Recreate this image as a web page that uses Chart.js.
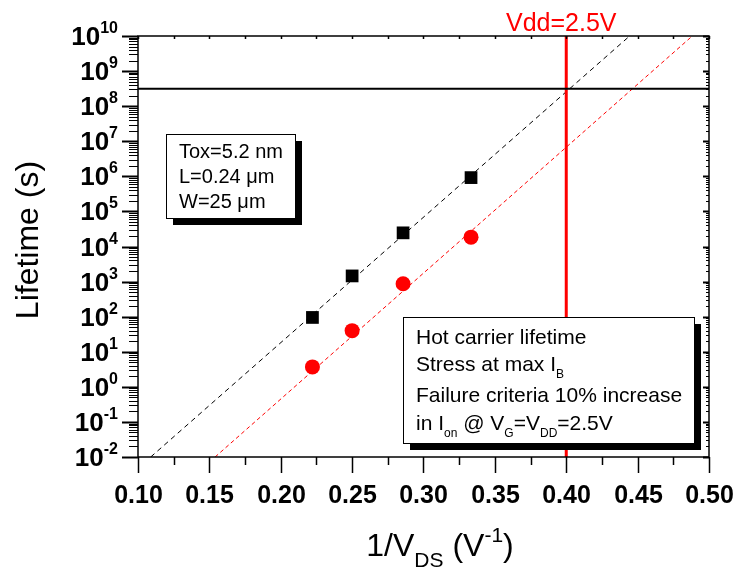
<!DOCTYPE html>
<html>
<head>
<meta charset="utf-8">
<script src="https://cdn.jsdelivr.net/npm/chart.js@4.4.1/dist/chart.umd.min.js"></script>
<style>
  body { margin: 0; background: #fff; }
</style>
</head>
<body>
<canvas id="lifetime-chart" width="734" height="571"></canvas>
<script>
// measured points (1/Vds in V^-1, lifetime in s)
const invVds = [0.2222, 0.25, 0.2857, 0.3333];
const lifetimeBlack = [95, 1450, 24500, 920000];
const lifetimeRed = [3.7, 40, 870, 18500];

// dashed fits, read where they hit the bottom and top of the frame
const fitBlackX = [0.1089, 0.4444];
const fitRedX = [0.154, 0.4883];
const fitY = [1e-2, 1e10];

const tenYears = 3.15e8;
const vddX = 0.4;

const xTickValues = [0.10, 0.125, 0.15, 0.175, 0.20, 0.225, 0.25, 0.275, 0.30, 0.325, 0.35, 0.375, 0.40, 0.425, 0.45, 0.475, 0.50];
const yExponents = [-2, -1, 0, 1, 2, 3, 4, 5, 6, 7, 8, 9, 10];

const FONT = 'Arial, "Liberation Sans", sans-serif';

const toPoints = (xs, ys) => xs.map((v, i) => ({ x: v, y: ys[i] }));

// draws text made of normal / sub / sup pieces
function richText(ctx, parts, x, y, size, align, subScale, subDrop) {
  const subSize = Math.round(size * (subScale || 0.6));
  const widthOf = (p) => {
    ctx.font = (p.sub || p.sup ? subSize : size) + 'px ' + FONT;
    return ctx.measureText(p.t).width;
  };
  const total = parts.reduce((s, p) => s + widthOf(p), 0);
  let cx = align === 'center' ? x - total / 2 : x;
  ctx.textAlign = 'left';
  ctx.textBaseline = 'alphabetic';
  parts.forEach((p) => {
    const w = widthOf(p);
    let dy = 0;
    if (p.sub) dy = size * (subDrop || 0.3);
    if (p.sup) dy = -size * 0.45;
    ctx.fillText(p.t, cx, y + dy);
    cx += w;
  });
}

function textBox(ctx, x1, y1, x2, y2, lines, size) {
  ctx.fillStyle = '#000';
  ctx.fillRect(x1 + 7, y1 + 7, x2 - x1, y2 - y1);
  ctx.fillStyle = '#fff';
  ctx.fillRect(x1, y1, x2 - x1, y2 - y1);
  ctx.strokeStyle = '#000';
  ctx.lineWidth = 1;
  ctx.strokeRect(x1 + 0.5, y1 + 0.5, x2 - x1, y2 - y1);
  ctx.fillStyle = '#000';
  lines.forEach((l) => richText(ctx, l.parts, x1 + 13, l.y, size, 'left', 0.55, 0.33));
}

const axesPlugin = {
  id: 'originAxes',
  afterDatasetsDraw(chart) {
    const { ctx, chartArea: a, scales: { x, y } } = chart;
    ctx.save();

    // frame
    ctx.strokeStyle = '#000';
    ctx.lineWidth = 1.5;
    ctx.strokeRect(a.left, a.top, a.right - a.left, a.bottom - a.top);

    // x ticks and labels
    xTickValues.forEach((v) => {
      const px = Math.round(x.getPixelForValue(v)) + 0.5;
      const major = Math.round(v * 1000) % 50 === 0;
      ctx.lineWidth = 1.5;
      ctx.beginPath();
      ctx.moveTo(px, a.bottom);
      ctx.lineTo(px, a.bottom + (major ? 16 : 8));
      ctx.moveTo(px, a.top);
      ctx.lineTo(px, a.top + 3);
      ctx.stroke();
      if (major) {
        ctx.fillStyle = '#000';
        ctx.font = 'bold 25px ' + FONT;
        ctx.textAlign = 'center';
        ctx.textBaseline = 'middle';
        ctx.fillText(v.toFixed(2), px, 496);
      }
    });

    // y ticks (log) and labels
    yExponents.forEach((e) => {
      const py = Math.round(y.getPixelForValue(Math.pow(10, e))) + 0.5;
      ctx.lineWidth = 2;
      ctx.beginPath();
      ctx.moveTo(a.left - 16, py);
      ctx.lineTo(a.left, py);
      ctx.moveTo(a.right, py);
      ctx.lineTo(a.right - 6, py);
      ctx.stroke();
      if (e < 10) {
        ctx.lineWidth = 1;
        for (let k = 2; k <= 9; k++) {
          const pm = Math.round(y.getPixelForValue(k * Math.pow(10, e))) + 0.5;
          ctx.beginPath();
          ctx.moveTo(a.left - 9, pm);
          ctx.lineTo(a.left, pm);
          ctx.moveTo(a.right, pm);
          ctx.lineTo(a.right - 3, pm);
          ctx.stroke();
        }
      }
      const right = 118;
      ctx.fillStyle = '#000';
      ctx.font = 'bold 16px ' + FONT;
      ctx.textAlign = 'right';
      ctx.textBaseline = 'alphabetic';
      const exp = String(e);
      ctx.fillText(exp, right, py - 4);
      const ew = ctx.measureText(exp).width;
      ctx.font = 'bold 26px ' + FONT;
      ctx.textBaseline = 'middle';
      ctx.fillText('10', right - ew, py + 1);
    });

    // axis titles
    ctx.fillStyle = '#000';
    ctx.save();
    ctx.translate(38, 240);
    ctx.rotate(-Math.PI / 2);
    ctx.font = '32px ' + FONT;
    ctx.textAlign = 'center';
    ctx.textBaseline = 'alphabetic';
    ctx.fillText('Lifetime (s)', 0, 0);
    ctx.restore();
    richText(ctx, [{ t: '1/V' }, { t: 'DS', sub: true }, { t: ' (V' }, { t: '-1', sup: true }, { t: ')' }], 440, 556, 32, 'center', 0.65, 0.35);

    // Vdd label
    ctx.fillStyle = '#ff0000';
    ctx.font = '25px ' + FONT;
    ctx.textAlign = 'center';
    ctx.textBaseline = 'alphabetic';
    ctx.fillText('Vdd=2.5V', x.getPixelForValue(vddX) - 5, 31);

    // annotation boxes
    textBox(ctx, 166, 134, 295, 218, [
      { y: 158, parts: [{ t: 'Tox=5.2 nm' }] },
      { y: 183, parts: [{ t: 'L=0.24 μm' }] },
      { y: 208, parts: [{ t: 'W=25 μm' }] },
    ], 20);
    textBox(ctx, 403, 317, 694, 443, [
      { y: 344, parts: [{ t: 'Hot carrier lifetime' }] },
      { y: 371, parts: [{ t: 'Stress at max I' }, { t: 'B', sub: true }] },
      { y: 402, parts: [{ t: 'Failure criteria 10% increase' }] },
      { y: 430, parts: [{ t: 'in I' }, { t: 'on', sub: true }, { t: ' @ V' }, { t: 'G', sub: true }, { t: '=V' }, { t: 'DD', sub: true }, { t: '=2.5V' }] },
    ], 21);

    ctx.restore();
  },
};

new Chart(document.getElementById('lifetime-chart'), {
  type: 'scatter',
  data: {
    datasets: [
      {
        data: toPoints(invVds, lifetimeBlack),
        pointStyle: 'rect',
        pointRadius: 9,
        backgroundColor: '#000',
        borderColor: '#000',
        borderWidth: 0,
        order: 0,
      },
      {
        data: toPoints(invVds, lifetimeRed),
        pointStyle: 'circle',
        pointRadius: 7.5,
        backgroundColor: '#ff0000',
        borderColor: '#ff0000',
        borderWidth: 0,
        order: 0,
      },
      {
        data: toPoints(fitBlackX, fitY),
        showLine: true,
        borderColor: '#000',
        borderWidth: 1,
        borderDash: [5, 4],
        pointRadius: 0,
        order: 2,
      },
      {
        data: toPoints(fitRedX, fitY),
        showLine: true,
        borderColor: '#ff0000',
        borderWidth: 1,
        borderDash: [4, 3],
        pointRadius: 0,
        order: 2,
      },
      {
        data: [{ x: 0.1, y: tenYears }, { x: 0.5, y: tenYears }],
        showLine: true,
        borderColor: '#000',
        borderWidth: 2,
        pointRadius: 0,
        order: 1,
      },
      {
        data: [{ x: vddX, y: fitY[0] }, { x: vddX, y: fitY[1] }],
        showLine: true,
        borderColor: '#ff0000',
        borderWidth: 3,
        pointRadius: 0,
        order: 1,
      },
    ],
  },
  options: {
    responsive: false,
    animation: false,
    devicePixelRatio: 1,
    layout: { padding: { left: 0, right: 25, top: 36, bottom: 0 } },
    plugins: { legend: { display: false }, tooltip: { enabled: false } },
    scales: {
      x: {
        type: 'linear',
        min: 0.1,
        max: 0.5,
        grid: { display: false },
        border: { display: false },
        ticks: { display: false },
        afterFit: (s) => { s.height = 114; },
      },
      y: {
        type: 'logarithmic',
        min: 1e-2,
        max: 1e10,
        grid: { display: false },
        border: { display: false },
        ticks: { display: false },
        afterFit: (s) => { s.width = 138; },
      },
    },
  },
  plugins: [axesPlugin],
});
</script>
</body>
</html>
